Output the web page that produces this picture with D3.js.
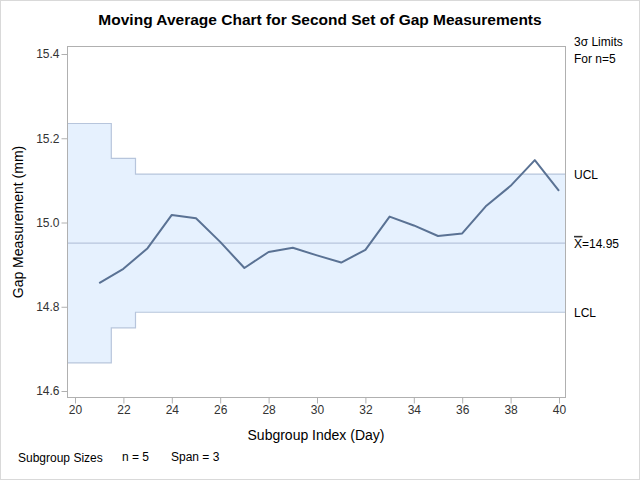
<!DOCTYPE html>
<html><head><meta charset="utf-8">
<script src="https://cdn.jsdelivr.net/npm/d3@7"></script>
<style>body{margin:0;background:#fff}text{font-family:"Liberation Sans",Arial,sans-serif}</style>
</head><body><svg id="c" width="640" height="480"></svg>
<script>
const days = [21,22,23,24,25,26,27,28,29,30,31,32,33,34,35,36,37,38,39,40];
const movAvg = [14.856,14.890,14.939,15.018,15.010,14.954,14.892,14.930,14.940,14.922,14.905,14.935,15.014,14.993,14.968,14.974,15.040,15.087,15.148,15.075];
const centerLine = 14.951;
const limitX = [19.7,21.5,22.5,40.25];
const uclSteps = [15.235,15.152,15.115];
const lclSteps = [14.667,14.750,14.787];
const xTicks = [20,22,24,26,28,30,32,34,36,38,40];
const yTicks = [14.6,14.8,15.0,15.2,15.4];

const svg = d3.select("#c");
const L=67.5,R=565.5,T=46.5,B=397.5;
const x = d3.scaleLinear().domain([20,40]).range([75,559]);
const y = d3.scaleLinear().domain([14.6,15.4]).range([391,54]);

svg.append("rect").attr("x",0.5).attr("y",0.5).attr("width",639).attr("height",479)
  .attr("fill","#fff").attr("stroke","#d9d9d9");

// band
const xs = [L, x(limitX[1]), x(limitX[2]), R];
const upper=[], lower=[];
for(let i=0;i<3;i++){ upper.push([xs[i],y(uclSteps[i])],[xs[i+1],y(uclSteps[i])]); lower.push([xs[i],y(lclSteps[i])],[xs[i+1],y(lclSteps[i])]); }
const poly = upper.concat(lower.slice().reverse());
svg.append("path").attr("d",d3.line()(poly)+"Z").attr("fill","#e6f1fe").attr("stroke","none");
svg.append("path").attr("d",d3.line()(upper)).attr("fill","none").attr("stroke","#b7c5dc").attr("stroke-width",1.2);
svg.append("path").attr("d",d3.line()(lower)).attr("fill","none").attr("stroke","#b7c5dc").attr("stroke-width",1.2);
svg.append("line").attr("x1",L).attr("x2",R).attr("y1",y(centerLine)).attr("y2",y(centerLine))
  .attr("stroke","#b7c5dc").attr("stroke-width",1.2);

// data line
svg.append("path").datum(days.map((d,i)=>[d,movAvg[i]]))
  .attr("d",d3.line().x(d=>x(d[0])).y(d=>y(d[1])))
  .attr("fill","none").attr("stroke","#5a7294").attr("stroke-width",2).attr("stroke-linejoin","round");

// frame
svg.append("rect").attr("x",L).attr("y",T).attr("width",R-L).attr("height",B-T)
  .attr("fill","none").attr("stroke","#b0b0b0");

// axes
const gy = svg.append("g").attr("transform",`translate(${L},0)`)
  .call(d3.axisLeft(y).tickValues(yTicks).tickFormat(d3.format(".1f")).tickSize(6).tickPadding(2));
const gx = svg.append("g").attr("transform",`translate(0,${B})`)
  .call(d3.axisBottom(x).tickValues(xTicks).tickSize(6).tickPadding(2));
[gx,gy].forEach(g=>{
  g.select(".domain").remove();
  g.selectAll(".tick line").attr("stroke","#b0b0b0");
  g.selectAll(".tick text").attr("fill","#333").style("font-size","12px").style("font-family","'Liberation Sans',Arial,sans-serif");
});

// titles
svg.append("text").attr("x",320).attr("y",25).attr("text-anchor","middle")
  .style("font-size","15.5px").style("font-weight","bold").attr("fill","#000")
  .text("Moving Average Chart for Second Set of Gap Measurements");
svg.append("text").attr("x",316).attr("y",440).attr("text-anchor","middle")
  .style("font-size","14px").attr("fill","#000").text("Subgroup Index (Day)");
svg.append("text").attr("transform","translate(23,222) rotate(-90)").attr("text-anchor","middle")
  .style("font-size","14px").attr("fill","#000").text("Gap Measurement (mm)");

// right labels
const rl = svg.append("g").style("font-size","12px").attr("fill","#000");
rl.append("text").attr("x",574).attr("y",46).text("3σ Limits");
rl.append("text").attr("x",574).attr("y",63).text("For n=5");
rl.append("text").attr("x",574).attr("y",y(uclSteps[2])+5).text("UCL");
rl.append("text").attr("x",574).attr("y",y(lclSteps[2])+5).text("LCL");
rl.append("text").attr("x",574).attr("y",y(centerLine)+5).text("X=" + d3.format(".2f")(centerLine));
svg.append("line").attr("x1",574).attr("x2",582.5).attr("y1",y(centerLine)-6.5).attr("y2",y(centerLine)-6.5)
  .attr("stroke","#333").attr("stroke-width",1.6);

// footer
const ft = svg.append("g").style("font-size","12px").attr("fill","#000");
ft.append("text").attr("x",18).attr("y",462).text("Subgroup Sizes");
ft.append("text").attr("x",122).attr("y",461).text("n = 5");
ft.append("text").attr("x",171).attr("y",461).text("Span = 3");
</script></body></html>
